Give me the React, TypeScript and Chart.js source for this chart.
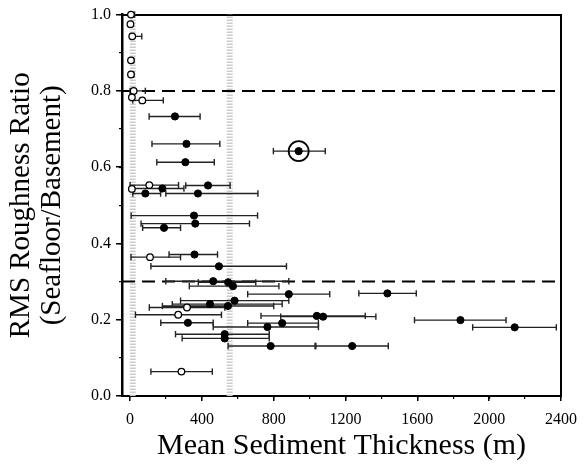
import React, { useEffect, useRef } from 'react';
import { Chart, registerables } from 'chart.js';

Chart.register(...registerables);

// ---------- data ----------
// filled circles: mean thickness (m), RMS ratio, error-bar low/high (m)
const filledX = [250, 314, 308, 434, 180, 85, 378, 356, 363, 189, 359, 495, 463, 546, 573, 884, 1433, 582, 445, 545, 1040, 1075, 322, 847, 765, 1840, 2142, 527, 527, 783, 1237];
const filledY = [0.733, 0.661, 0.613, 0.552, 0.544, 0.531, 0.531, 0.473, 0.452, 0.441, 0.371, 0.340, 0.301, 0.298, 0.288, 0.267, 0.269, 0.250, 0.241, 0.236, 0.210, 0.208, 0.192, 0.191, 0.181, 0.199, 0.180, 0.162, 0.151, 0.131, 0.131];
const filledLo = [106, 122, 149, 310, 15, 15, 199, 6, 61, 70, 217, 116, 199, 380, 330, 655, 1274, 281, 235, 180, 729, 839, 171, 655, 463, 1584, 1908, 253, 290, 546, 1035];
const filledHi = [390, 500, 469, 557, 300, 170, 712, 710, 665, 281, 487, 871, 884, 700, 829, 1112, 1594, 884, 847, 800, 1310, 1369, 463, 1049, 1049, 2094, 2374, 775, 775, 1030, 1438];

// open circles
const openX = [5, 2, 12, 5, 5, 20, 10, 68, 107, 10, 111, 317, 268, 286];
const openY = [1.0, 0.975, 0.943, 0.88, 0.843, 0.80, 0.783, 0.775, 0.553, 0.543, 0.364, 0.232, 0.213, 0.064];
const openLo: (number | null)[] = [0, null, 0, 0, 0, 0, null, 15, 0, null, 5, 107, 30, 116];
const openHi: (number | null)[] = [25, null, 65, 20, 20, 85, null, 185, 270, null, 281, 528, 509, 458];

// circled (highlighted) point
const circledX = [939];
const circledY = [0.642];
const circledLo = [798];
const circledHi = [1087];

// reference lines
const thresholdY = [0.8, 0.3];
const bandX = [15, 555];

// axes
const xRange = [-45, 2400];
const yRange = [0, 1];
const xTicks = [0, 400, 800, 1200, 1600, 2000, 2400];
const xTickLabels = ['0', '400', '800', '1200', '1600', '2000', '2400'];
const xMinorTicks = [0, 200, 400, 600, 800, 1000, 1200, 1400, 1600, 1800, 2000, 2200, 2400];
const yTicks = [0, 0.2, 0.4, 0.6, 0.8, 1.0];
const yTickLabels = ['0.0', '0.2', '0.4', '0.6', '0.8', '1.0'];
const yMinorTicks = [0, 0.1, 0.2, 0.3, 0.4, 0.5, 0.6, 0.7, 0.8, 0.9, 1.0];

const FONT = 'Liberation Serif';

function errorBarData(xs: number[], ys: number[], lo: (number | null)[], hi: (number | null)[]) {
  const out: any[] = [];
  for (let i = 0; i < xs.length; i++) {
    if (lo[i] == null || hi[i] == null) continue;
    out.push({ x: lo[i], y: ys[i] });
    out.push({ x: hi[i], y: ys[i] });
    out.push({ x: hi[i], y: null });
  }
  return out;
}

function pts(xs: number[], ys: number[]) {
  return xs.map((x, i) => ({ x, y: ys[i] }));
}

export default function App() {
  const ref = useRef<HTMLCanvasElement | null>(null);

  useEffect(() => {
    document.body.style.margin = '0';
    const canvas = ref.current;
    if (!canvas) return;

    const datasets: any[] = [];
    datasets.push({
      type: 'scatter', data: pts(circledX, circledY), pointRadius: 10, pointBorderWidth: 1.8,
      pointBackgroundColor: 'rgba(0,0,0,0)', pointBorderColor: '#000', order: 0, clip: false,
    });
    datasets.push({
      type: 'scatter', data: pts(filledX.concat(circledX), filledY.concat(circledY)), pointRadius: 3.6, pointBorderWidth: 1,
      pointBackgroundColor: '#000', pointBorderColor: '#000', order: 1, clip: false,
    });
    datasets.push({
      type: 'scatter', data: pts(openX, openY), pointRadius: 3.3, pointBorderWidth: 1.3,
      pointBackgroundColor: '#fff', pointBorderColor: '#000', order: 2, clip: false,
    });
    datasets.push({
      type: 'line',
      data: errorBarData(
        filledX.concat(openX, circledX),
        filledY.concat(openY, circledY),
        (filledLo as (number | null)[]).concat(openLo, circledLo),
        (filledHi as (number | null)[]).concat(openHi, circledHi)
      ),
      showLine: true, spanGaps: false, borderColor: '#222', borderWidth: 1.4,
      pointStyle: 'line', rotation: 90, pointRadius: 3.2, pointBorderWidth: 1.4,
      pointBorderColor: '#222', order: 3, clip: false,
    });
    thresholdY.forEach((y) => {
      datasets.push({
        type: 'line', data: [{ x: xRange[0], y }, { x: xRange[1], y }], showLine: true,
        borderColor: '#000', borderWidth: 2, borderDash: [13, 7], pointRadius: 0, order: 4,
      });
    });
    bandX.forEach((x) => {
      datasets.push({
        type: 'line', data: [{ x, y: yRange[0] }, { x, y: yRange[1] }], showLine: true,
        borderColor: '#cccccc', borderWidth: 6, borderDash: [1.5, 1.5], pointRadius: 0, order: 5,
      });
    });

    const tickFont = { family: FONT, size: 16 };
    const noTicks = (s: any) => { s.ticks = []; };

    const chart = new Chart(canvas, {
      type: 'scatter',
      data: { datasets },
      options: {
        responsive: false,
        animation: false,
        events: [],
        layout: { padding: { left: 0, top: 14, right: 18, bottom: 0 } },
        plugins: { legend: { display: false }, tooltip: { enabled: false } },
        scales: {
          x: {
            type: 'linear', position: 'bottom', min: xRange[0], max: xRange[1], weight: 1,
            afterBuildTicks: (s: any) => { s.ticks = xTicks.map((v) => ({ value: v })); },
            ticks: {
              callback: (v: any) => xTickLabels[xTicks.indexOf(Number(v))],
              font: tickFont, color: '#000', padding: 9, maxRotation: 0, autoSkip: false,
            },
            grid: { drawOnChartArea: false, drawTicks: true, tickLength: 5, color: '#000', lineWidth: 1.5 },
            border: { display: true, color: '#000', width: 2 },
            title: {
              display: true, text: 'Mean Sediment Thickness (m)', color: '#000',
              font: { family: FONT, size: 30, lineHeight: 1.1 }, padding: { top: 0, bottom: 5 },
            },
            afterFit: (s: any) => { s.height = 72; },
          },
          xMinor: {
            type: 'linear', position: 'bottom', min: xRange[0], max: xRange[1], weight: 0,
            afterBuildTicks: (s: any) => { s.ticks = xMinorTicks.map((v) => ({ value: v })); },
            ticks: { display: false },
            grid: { drawOnChartArea: false, drawTicks: true, tickLength: 3, color: '#000', lineWidth: 1.2 },
            border: { display: false },
            afterFit: (s: any) => { s.height = 0; },
          },
          xTop: {
            type: 'linear', position: 'top', min: xRange[0], max: xRange[1],
            afterBuildTicks: noTicks,
            ticks: { display: false },
            grid: { drawOnChartArea: false, drawTicks: false },
            border: { display: true, color: '#000', width: 2 },
            afterFit: (s: any) => { s.height = 0; },
          },
          y: {
            type: 'linear', position: 'left', min: yRange[0], max: yRange[1], weight: 1,
            afterBuildTicks: (s: any) => { s.ticks = yTicks.map((v) => ({ value: v })); },
            ticks: {
              callback: (v: any) => {
                const i = yTicks.findIndex((t) => Math.abs(t - Number(v)) < 1e-9);
                return i >= 0 ? yTickLabels[i] : '';
              },
              font: tickFont, color: '#000', padding: 5, autoSkip: false,
            },
            grid: { drawOnChartArea: false, drawTicks: true, tickLength: 6, color: '#000', lineWidth: 1.5 },
            border: { display: true, color: '#000', width: 2.5 },
            title: {
              display: true, text: ['RMS Roughness Ratio', '(Seafloor/Basement)'], color: '#000',
              font: { family: FONT, size: 29, lineHeight: 1.1 }, padding: { top: 5, bottom: 0 },
            },
            afterFit: (s: any) => { s.width = 122; },
          },
          yMinor: {
            type: 'linear', position: 'left', min: yRange[0], max: yRange[1], weight: 0,
            afterBuildTicks: (s: any) => { s.ticks = yMinorTicks.map((v) => ({ value: v })); },
            ticks: { display: false },
            grid: { drawOnChartArea: false, drawTicks: true, tickLength: 3, color: '#000', lineWidth: 1.2 },
            border: { display: false },
            afterFit: (s: any) => { s.width = 0; },
          },
          yRight: {
            type: 'linear', position: 'right', min: yRange[0], max: yRange[1],
            afterBuildTicks: noTicks,
            ticks: { display: false },
            grid: { drawOnChartArea: false, drawTicks: false },
            border: { display: true, color: '#000', width: 2 },
            afterFit: (s: any) => { s.width = 0; },
          },
        },
      } as any,
    });

    return () => chart.destroy();
  }, []);

  return (
    <div style={{ position: 'absolute', left: 0, top: 0, width: 586, height: 468, background: '#fff' }}>
      <canvas ref={ref} width={586} height={468} style={{ display: 'block', width: 586, height: 468 }} />
    </div>
  );
}
